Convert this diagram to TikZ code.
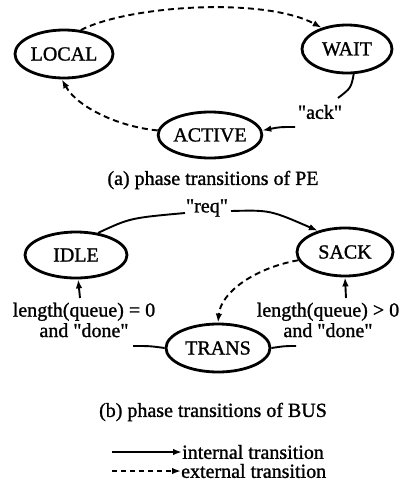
\documentclass[tikz,border=0pt]{standalone}
\usepackage{fontspec}
\newfontfamily\diagfont[FakeBold=1.2]{Liberation Serif}
\usetikzlibrary{arrows.meta,shapes.geometric}
\begin{document}
\begin{tikzpicture}[x=1pt,y=-1pt,
  font=\diagfont\fontsize{20}{20.5}\selectfont,
  state/.style={ellipse,draw,line width=2.8pt,inner sep=0pt},
  lbl/.style={inner sep=0pt,align=center},
  plain/.style={line width=1.9pt},
  tr/.style={line width=1.9pt,-{Latex[length=9pt,width=6.5pt]}},
  dtr/.style={tr,dash pattern=on 6pt off 4pt}]
\useasboundingbox (0,0) rectangle (400,490);
% states
\node[state,minimum width=98pt,minimum height=48pt] (L) at (64,54) {LOCAL};
\node[state,minimum width=90pt,minimum height=48pt] (W) at (347,49) {WAIT};
\node[state,minimum width=102pt,minimum height=46pt] (A) at (210,135) {ACTIVE};
\node[state,minimum width=102pt,minimum height=46pt] (I) at (76,255) {IDLE};
\node[state,minimum width=96pt,minimum height=48pt] (S) at (345,252) {SACK};
\node[state,minimum width=104pt,minimum height=48pt] (T) at (218,348) {TRANS};
% labels
\node[lbl] (ack) at (320,112) {"ack"};
\node[lbl] (req) at (207,208) {"req"};
\node[lbl] (l1) at (84,320) {length(queue) = 0\\and "done"};
\node[lbl] (l2) at (328,320) {length(queue) > 0\\and "done"};
\node[lbl] (capa) at (213,180) {(a) phase transitions of PE};
\node[lbl] (capb) at (213,412) {(b) phase transitions of BUS};
% free ends
\coordinate (k1) at (338,98);
\coordinate (k2) at (295,127);
\coordinate (r1) at (185,213);
\coordinate (r2) at (231,211);
\coordinate (c1) at (133,346);
\coordinate (c2) at (80,298);
\coordinate (c3) at (296,346);
\coordinate (c4) at (346,298);
% part (a)
\draw[dtr] (L.55) .. controls (130,5) and (265,-3) .. (W.140);
\draw[plain] (W.-75) .. controls (351,88) .. (k1);
\draw[tr] (k2) .. controls (280,127) .. (A.5);
\draw[dtr] (A.175) .. controls (120,127) and (78,108) .. (L.-95);
% part (b)
\draw[plain] (I.45) .. controls (130,218) .. (r1);
\draw[tr] (r2) .. controls (270,210) .. (S.142);
\draw[dtr] (S.190) .. controls (255,268) and (221,292) .. (T.north);
\draw[plain] (T.west) .. controls (150,346) .. (c1);
\draw[tr] (c2) -- (I.-85);
\draw[plain] (T.east) .. controls (285,346) .. (c3);
\draw[tr] (c4) -- (S.south);
% legend
\node[lbl,anchor=west] (g1) at (182,452) {internal transition};
\node[lbl,anchor=west] (g2) at (181,471) {external transition};
\coordinate (g1s) at (112,452);
\coordinate (g2s) at (112,471);
\draw[tr] (g1s) -- (g1.west);
\draw[tr,dash pattern=on 5pt off 4pt] (g2s) -- (g2.west);
\end{tikzpicture}
\end{document}
